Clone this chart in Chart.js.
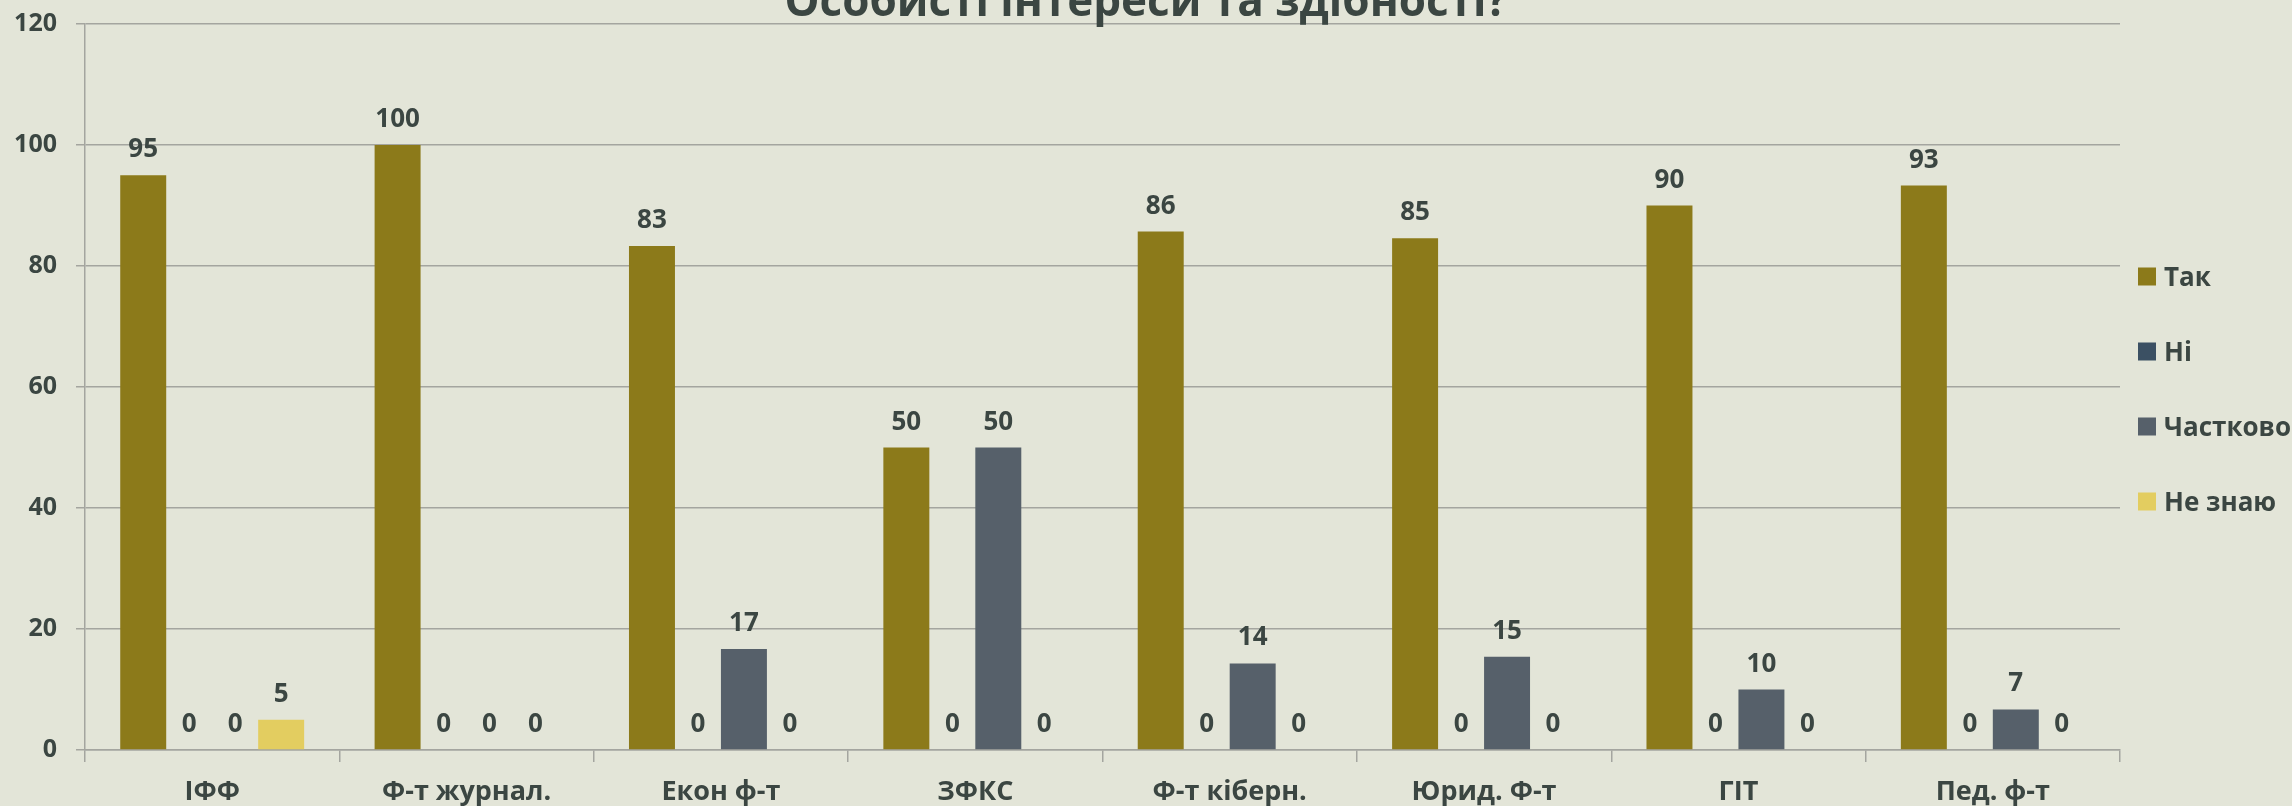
<!DOCTYPE html>
<html><head><meta charset="utf-8">
<script src="https://cdn.jsdelivr.net/npm/chart.js@4/dist/chart.umd.min.js"></script>
<style>
html,body{margin:0;padding:0;background:#e3e5d8;overflow:hidden;width:2292px;height:806px;}
#wrap{position:absolute;left:0;top:-40px;width:2292px;height:846px;}
</style></head><body>
<div id="wrap"><canvas id="c" width="2292" height="846"></canvas></div>
<script>
const categories = ['ІФФ', 'Ф-т журнал.', 'Екон ф-т', 'ЗФКС', 'Ф-т кіберн.', 'Юрид. Ф-т', 'ГІТ', 'Пед. ф-т'];
const seriesNames = ['Так', 'Ні', 'Частково', 'Не знаю'];
const yesValues = [95, 100, 83.3, 50, 85.7, 84.6, 90, 93.3];
const noValues = [0, 0, 0, 0, 0, 0, 0, 0];
const partlyValues = [0, 0, 16.7, 50, 14.3, 15.4, 10, 6.7];
const dontKnowValues = [5, 0, 0, 0, 0, 0, 0, 0];
const yMin = 0, yMax = 120, yStep = 20;
const titleText = 'Особисті інтереси та здібності?';

const seriesColors = ['#8c7a1a', '#3b5063', '#56606a', '#e3cd60'];
const textColor = '#3b4642';
const gridColor = '#a4a59f';
const FONT = '"Open Sans", "Noto Sans", sans-serif';

const valueLabels = {
  id: 'valueLabels',
  afterDatasetsDraw(chart) {
    const ctx = chart.ctx;
    ctx.save();
    ctx.font = 'bold 26px ' + FONT;
    ctx.fillStyle = textColor;
    ctx.textAlign = 'center';
    ctx.textBaseline = 'alphabetic';
    chart.data.datasets.forEach((ds, di) => {
      const meta = chart.getDatasetMeta(di);
      meta.data.forEach((el, i) => {
        ctx.fillText(String(Math.round(ds.data[i])), el.x, el.y - 18);
      });
    });
    ctx.restore();
  }
};

const sideLegend = {
  id: 'sideLegend',
  afterDraw(chart) {
    const ctx = chart.ctx;
    const area = chart.chartArea;
    const mid = (area.top + area.bottom) / 2 + 2;
    ctx.save();
    ctx.font = 'bold 26px ' + FONT;
    ctx.textAlign = 'left';
    ctx.textBaseline = 'alphabetic';
    chart.data.datasets.forEach((ds, i) => {
      const cy = mid + (i - 1.5) * 75;
      const bx = area.right + 18;
      ctx.fillStyle = ds.backgroundColor;
      ctx.fillRect(bx, cy - 9, 18, 18);
      ctx.fillStyle = textColor;
      ctx.fillText(ds.label, bx + 26, cy + 9.5);
    });
    ctx.restore();
  }
};

const valueSets = [yesValues, noValues, partlyValues, dontKnowValues];

new Chart(document.getElementById('c'), {
  type: 'bar',
  data: {
    labels: categories,
    datasets: seriesNames.map((name, i) => ({
      label: name,
      data: valueSets[i],
      backgroundColor: seriesColors[i],
      borderWidth: 0,
      barPercentage: 1,
      categoryPercentage: 0.723
    }))
  },
  options: {
    responsive: false,
    animation: false,
    layout: { padding: 0 },
    plugins: {
      legend: { display: false },
      tooltip: { enabled: false },
      title: {
        display: true,
        text: titleText,
        color: textColor,
        font: { family: FONT, size: 44, weight: 'bold', lineHeight: 0.9 },
        padding: { top: 24, bottom: 0.4 }
      }
    },
    scales: {
      x: {
        grid: { offset: true, drawOnChartArea: false, drawTicks: true, tickLength: 12, color: gridColor, lineWidth: 1.5 },
        border: { display: true, color: gridColor, width: 1.5 },
        ticks: { color: textColor, font: { family: FONT, size: 27, weight: 'bold' }, padding: 14, maxRotation: 0, autoSkip: false },
        afterFit: s => { s.height = 56; }
      },
      y: {
        min: yMin, max: yMax,
        ticks: { stepSize: yStep, color: textColor, font: { family: FONT, size: 25, weight: 'bold' }, padding: 19 },
        grid: { color: gridColor, lineWidth: 1.5, tickLength: 9, drawTicks: true },
        border: { display: true, color: gridColor, width: 1.5 },
        afterFit: s => { s.width = 85; }
      },
      yR: {
        type: 'linear',
        position: 'right',
        display: true,
        grid: { display: false },
        ticks: { display: false },
        border: { display: false },
        afterFit: s => { s.width = 172; }
      }
    }
  },
  plugins: [valueLabels, sideLegend]
});
</script>
</body></html>
